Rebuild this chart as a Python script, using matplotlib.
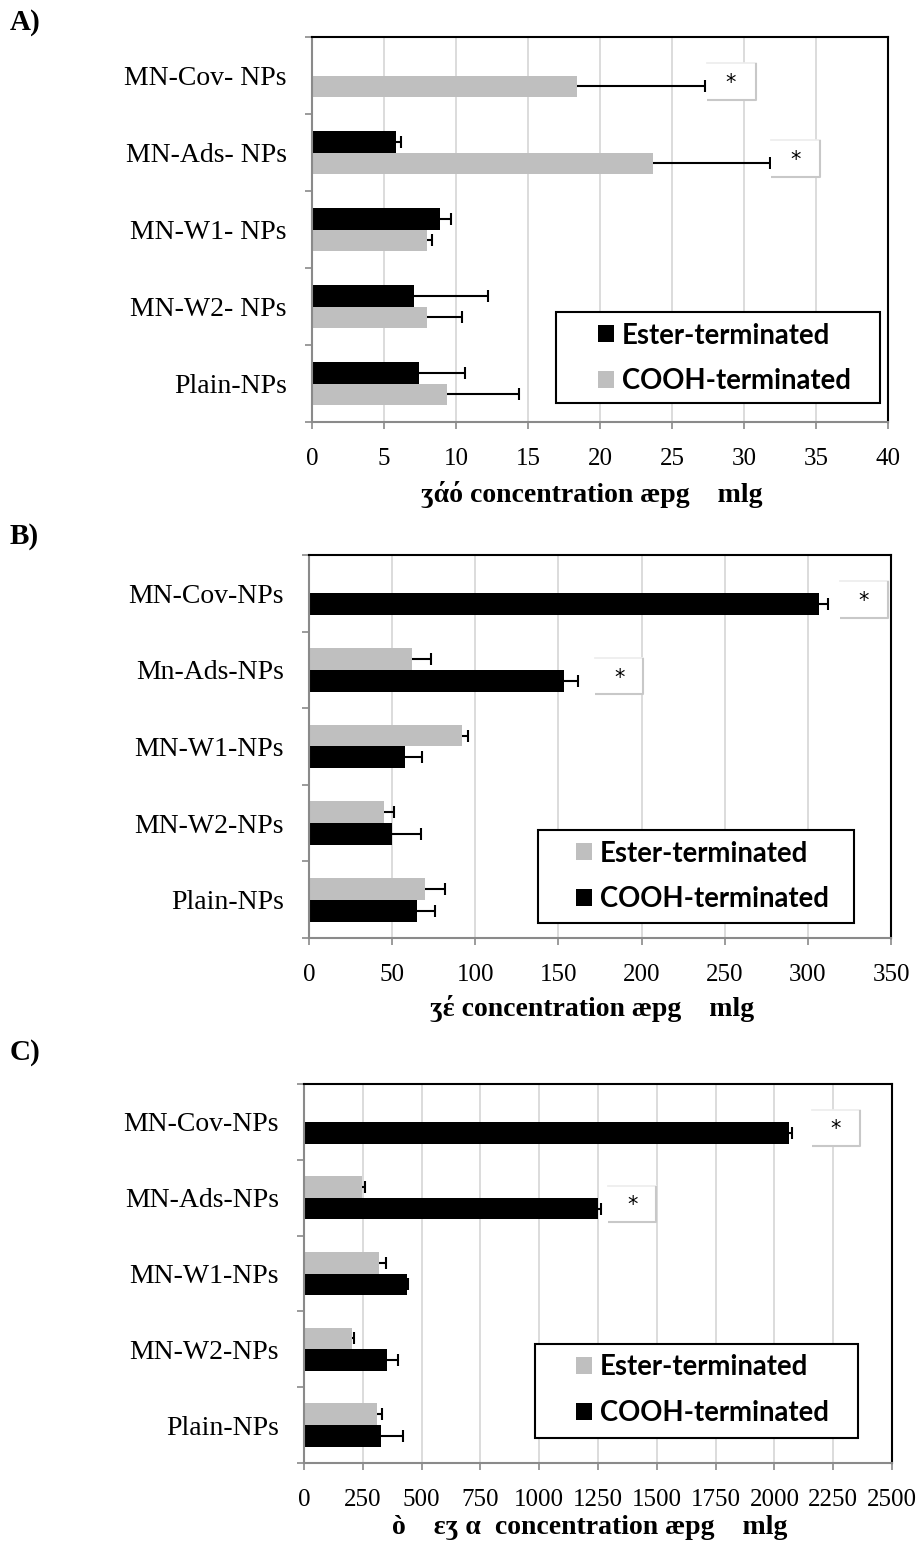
import numpy as np
import matplotlib
matplotlib.use('Agg')
import matplotlib.pyplot as plt
from matplotlib.patches import Patch, Rectangle

plt.rcParams['font.family'] = ['Liberation Serif', 'DejaVu Serif']

W, H = 920, 1542
BLACK = '#000000'
GREY = '#bfbfbf'
AXIS_GREY = '#8a8a8a'
GRID_GREY = '#d9d9d9'
SERIF = ['Liberation Serif', 'DejaVu Serif']

# ---- panel A ----
labels_a = ['MN-Cov- NPs', 'MN-Ads- NPs', 'MN-W1- NPs', 'MN-W2- NPs', 'Plain-NPs']
ester_a = [np.nan, 5.8, 8.9, 7.1, 7.4]
ester_err_a = [np.nan, 0.35, 0.75, 5.1, 3.25]
cooh_a = [18.4, 23.7, 8.0, 8.0, 9.4]
cooh_err_a = [8.9, 8.1, 0.35, 2.4, 5.0]
xticks_a = [0, 5, 10, 15, 20, 25, 30, 35, 40]
xlabel_a = 'ʒάό concentration æpg    mlg'

# ---- panel B ----
labels_b = ['MN-Cov-NPs', 'Mn-Ads-NPs', 'MN-W1-NPs', 'MN-W2-NPs', 'Plain-NPs']
ester_b = [np.nan, 62, 92, 45, 70]
ester_err_b = [np.nan, 11.5, 3.5, 6, 11.5]
cooh_b = [307, 153.5, 58, 50, 65]
cooh_err_b = [5, 8.5, 10, 17.5, 11]
xticks_b = [0, 50, 100, 150, 200, 250, 300, 350]
xlabel_b = 'ʒέ concentration æpg    mlg'

# ---- panel C ----
labels_c = ['MN-Cov-NPs', 'MN-Ads-NPs', 'MN-W1-NPs', 'MN-W2-NPs', 'Plain-NPs']
ester_c = [np.nan, 246, 320, 205, 310]
ester_err_c = [np.nan, 12, 28, 7, 21]
cooh_c = [2063, 1252, 440, 352, 328]
cooh_err_c = [10, 9, 4, 46, 91]
xticks_c = [0, 250, 500, 750, 1000, 1250, 1500, 1750, 2000, 2250, 2500]
xlabel_c = 'ò    εʒ α  concentration æpg    mlg'

series_names = ['Ester-terminated', 'COOH-terminated']


def px_rect(left, top, right, bottom):
    return [left / W, 1 - bottom / H, (right - left) / W, (bottom - top) / H]


def star_box(ax, x0, w, yc, h=0.48):
    ax.add_patch(Rectangle((x0, yc - h / 2), w, h, facecolor='white',
                           edgecolor='none', zorder=4))
    ax.plot([x0, x0 + w], [yc + h / 2, yc + h / 2], color='#ececec', lw=1.2, zorder=5)
    ax.plot([x0 + w, x0 + w, x0], [yc + h / 2, yc - h / 2, yc - h / 2],
            color='#c8c8c8', lw=1.5, zorder=5, solid_capstyle='butt')
    ax.text(x0 + w / 2, yc - 0.02, '*', ha='center', va='center', fontsize=15,
            family='DejaVu Sans', zorder=6)


def panel(fig, rect, tag, tag_y, labels, ester, ester_err, cooh, cooh_err,
          colors, xticks, xlabel, xlabel_y, legend_box, legend_anchor, stars, star_w):
    ax = fig.add_axes(px_rect(*rect))
    n = len(labels)
    y = np.arange(n)[::-1].astype(float)
    h = 0.2857
    ester = np.asarray(ester, float)
    cooh = np.asarray(cooh, float)
    ester_err = np.asarray(ester_err, float)
    cooh_err = np.asarray(cooh_err, float)

    ax.barh(y + h / 2, ester, height=h, color=colors[0], zorder=2)
    ax.barh(y - h / 2, cooh, height=h, color=colors[1], zorder=2)

    # plus-direction error bars
    for yy, v, e in [(y + h / 2, ester, ester_err), (y - h / 2, cooh, cooh_err)]:
        ok = ~np.isnan(v)
        ax.hlines(yy[ok], v[ok], v[ok] + e[ok], color='black', lw=1.5, zorder=3)
        ax.plot(v[ok] + e[ok], yy[ok], ls='none', marker='|', ms=8, mew=1.5,
                color='black', zorder=3)

    ax.set_xlim(xticks[0], xticks[-1])
    ax.set_ylim(-0.5, n - 0.5)
    ax.set_xticks(xticks)
    ax.set_xticklabels([str(t) for t in xticks], fontsize=18, family=SERIF)
    ax.set_yticks(y)
    ax.set_yticklabels(labels, fontsize=20, family=SERIF)
    ax.set_yticks(np.arange(-0.5, n, 1.0), minor=True)
    ax.tick_params(axis='y', which='major', length=0, pad=18)
    ax.tick_params(axis='y', which='minor', length=5, width=1.2, color=AXIS_GREY, direction='out')
    ax.tick_params(axis='x', length=5, width=1.2, color=AXIS_GREY, direction='out', pad=14)

    ax.grid(axis='x', color=GRID_GREY, lw=1.3)
    ax.set_axisbelow(True)
    for side in ['left', 'bottom']:
        ax.spines[side].set_color(AXIS_GREY)
        ax.spines[side].set_linewidth(1.5)
    for side in ['top', 'right']:
        ax.spines[side].set_color('black')
        ax.spines[side].set_linewidth(1.5)

    for cat, x0 in stars:
        star_box(ax, x0, star_w, y[cat] - 0.08)

    # legend frame drawn separately so its padding can be set per side
    lx0, ly0, lx1, ly1 = legend_box
    ax.add_patch(Rectangle((lx0, ly0), lx1 - lx0, ly1 - ly0, transform=ax.transAxes,
                           facecolor='white', edgecolor='black', lw=1.5, zorder=6))
    handles = [Patch(facecolor=colors[0], edgecolor='none'),
               Patch(facecolor=colors[1], edgecolor='none')]
    leg = ax.legend(handles, series_names, loc='center left', bbox_to_anchor=legend_anchor,
                    frameon=False, borderpad=0, borderaxespad=0, handlelength=0.58,
                    handleheight=0.58, handletextpad=0.3, labelspacing=0.72,
                    prop={'family': 'Lato', 'weight': 'bold', 'size': 19.8})
    leg.set_zorder(7)

    cx = (rect[0] + rect[2]) / 2 / W - 8 / W
    fig.text(cx, 1 - xlabel_y / H, xlabel, ha='center', va='center',
             fontsize=20, fontweight='bold', family=SERIF)
    fig.text(10 / W, 1 - tag_y / H, tag, ha='left', va='center',
             fontsize=21, fontweight='bold', family=SERIF)
    return ax


fig = plt.figure(figsize=(W / 100, H / 100), dpi=100)

panel(fig, (312, 37, 888, 422), 'A)', 22, labels_a, ester_a, ester_err_a, cooh_a, cooh_err_a,
      (BLACK, GREY), xticks_a, xlabel_a, 494,
      (0.4236, 0.0494, 0.986, 0.2857), (0.4965, 0.165),
      [(0, 27.4), (1, 31.9)], 3.4)

panel(fig, (309, 555, 891, 938), 'B)', 536, labels_b, ester_b, ester_err_b, cooh_b, cooh_err_b,
      (GREY, BLACK), xticks_b, xlabel_b, 1008,
      (0.3935, 0.0392, 0.9364, 0.282), (0.4588, 0.1606),
      [(0, 319.3), (1, 172.2)], 28.9)

panel(fig, (304, 1084, 892, 1463), 'C)', 1053, labels_c, ester_c, ester_err_c, cooh_c, cooh_err_c,
      (GREY, BLACK), xticks_c, xlabel_c, 1527,
      (0.3929, 0.066, 0.9422, 0.314), (0.4626, 0.1926),
      [(0, 2159), (1, 1293)], 204)

fig.savefig('out.png', dpi=100)
